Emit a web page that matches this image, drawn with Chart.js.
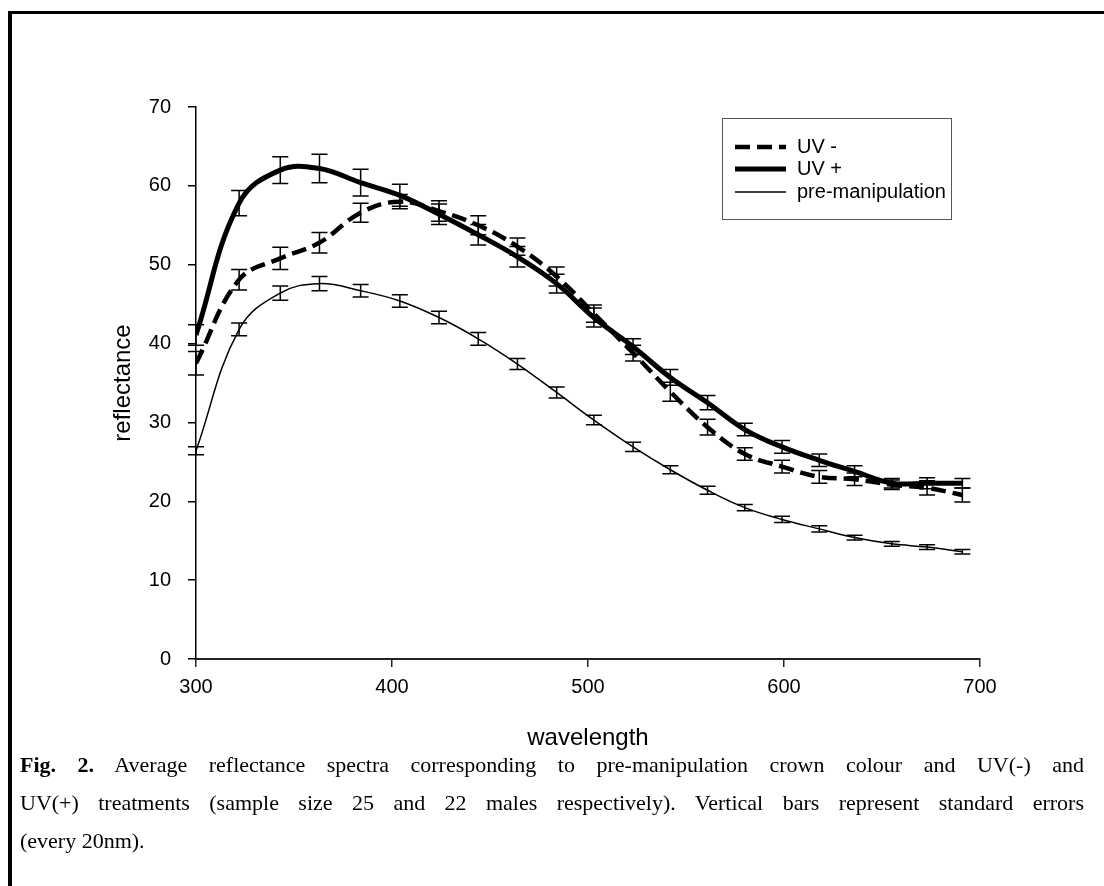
<!DOCTYPE html>
<html>
<head>
<meta charset="utf-8">
<script src="https://cdn.jsdelivr.net/npm/chart.js@4.4.1/dist/chart.umd.min.js"></script>
<style>
  html, body { margin: 0; padding: 0; background: #fff; }
  body { width: 1104px; height: 886px; position: relative; overflow: hidden; }
  #frame { position: absolute; left: 8px; top: 11px; width: 1200px; height: 1000px;
           border-left: 4px solid #000; border-top: 3px solid #000; }
  #chart { position: absolute; left: 0; top: 0; }
  #caption { position: absolute; left: 20px; top: 746px; width: 1064px;
             font-family: "Liberation Serif", "Times New Roman", serif; font-size: 22px;
             line-height: 38px; color: #000; }
  #caption div { text-align: justify; text-align-last: justify; white-space: nowrap; }
  #caption div.last { text-align-last: left; }
</style>
</head>
<body>
<div id="frame"></div>
<canvas id="chart" width="1104" height="760"></canvas>
<div id="caption">
  <div><b>Fig. 2.</b> Average reflectance spectra corresponding to pre-manipulation crown colour and UV(-) and</div>
  <div>UV(+) treatments (sample size 25 and 22 males respectively). Vertical bars represent standard errors</div>
  <div class="last">(every 20nm).</div>
</div>
<script>
// wavelengths where the standard errors were plotted (nm)
const wavelength = [300, 322, 343, 363, 384, 404, 424, 444, 464, 484, 503, 523, 542, 561, 580, 599, 618, 636, 655, 673, 691];

// mean reflectance per treatment
const uvMinus = [37.5, 48.1, 50.8, 52.8, 56.6, 58.0, 56.8, 55.0, 52.3, 48.5, 43.8, 38.8, 33.9, 29.4, 26.0, 24.4, 23.1, 22.8, 22.1, 21.7, 20.8];
const uvPlus  = [41.1, 57.8, 62.0, 62.2, 60.4, 58.8, 56.4, 53.8, 51.0, 47.6, 43.3, 39.6, 35.7, 32.5, 29.1, 26.9, 25.2, 23.8, 22.3, 22.3, 22.3];
const preManip = [26.4, 41.8, 46.4, 47.6, 46.7, 45.4, 43.3, 40.6, 37.4, 33.8, 30.3, 26.9, 24.0, 21.4, 19.2, 17.7, 16.5, 15.4, 14.6, 14.2, 13.6];

// standard errors
const uvMinusSE = [1.5, 1.3, 1.4, 1.3, 1.2, 0.9, 1.3, 1.2, 1.1, 1.2, 1.1, 1.0, 1.2, 1.0, 0.8, 0.8, 0.8, 0.8, 0.6, 0.9, 0.9];
const uvPlusSE  = [1.3, 1.6, 1.7, 1.8, 1.7, 1.4, 1.3, 1.3, 1.3, 1.2, 1.2, 1.0, 1.0, 0.9, 0.8, 0.8, 0.8, 0.7, 0.6, 0.7, 0.6];
const preSE     = [0.5, 0.8, 0.9, 0.9, 0.8, 0.8, 0.8, 0.8, 0.7, 0.7, 0.6, 0.6, 0.5, 0.5, 0.4, 0.4, 0.4, 0.3, 0.3, 0.3, 0.3];

const seriesLabels = ['UV -', 'UV +', 'pre-manipulation'];
const yTicks = [0, 10, 20, 30, 40, 50, 60, 70];
const xTicks = [300, 400, 500, 600, 700];

const toPoints = (vals) => vals.map((v, i) => ({ x: wavelength[i], y: v }));

// vertical standard error bars with caps
const errorBars = {
  id: 'errorBars',
  afterDatasetsDraw(chart) {
    const { ctx, scales: { x, y } } = chart;
    ctx.save();
    ctx.strokeStyle = '#000';
    ctx.lineWidth = 1.5;
    chart.data.datasets.forEach((ds) => {
      ds.data.forEach((p, i) => {
        const px = x.getPixelForValue(p.x);
        const top = y.getPixelForValue(p.y + ds.se[i]);
        const bot = y.getPixelForValue(p.y - ds.se[i]);
        ctx.beginPath();
        ctx.moveTo(px, top); ctx.lineTo(px, bot);
        ctx.moveTo(px - 8, top); ctx.lineTo(px + 8, top);
        ctx.moveTo(px - 8, bot); ctx.lineTo(px + 8, bot);
        ctx.stroke();
      });
    });
    ctx.restore();
  }
};

// boxed legend in the upper right, as in the figure
const boxLegend = {
  id: 'boxLegend',
  afterDraw(chart) {
    const ctx = chart.ctx;
    const left = 722, top = 118, right = 951, bottom = 219;
    ctx.save();
    ctx.strokeStyle = '#555';
    ctx.lineWidth = 1;
    ctx.strokeRect(left + 0.5, top + 0.5, right - left, bottom - top);
    ctx.font = '20px Arial, "Liberation Sans", sans-serif';
    ctx.textBaseline = 'middle';
    ctx.fillStyle = '#000';
    ctx.strokeStyle = '#000';
    const rows = [147, 169, 192];
    chart.data.datasets.forEach((ds, i) => {
      const yy = rows[i];
      ctx.beginPath();
      ctx.lineWidth = ds.borderWidth;
      ctx.setLineDash(ds.borderDash || []);
      ctx.moveTo(735, yy); ctx.lineTo(786, yy);
      ctx.stroke();
      ctx.setLineDash([]);
      ctx.fillText(ds.label, 797, yy);
    });
    ctx.restore();
  }
};

const tickFont = { family: 'Arial, "Liberation Sans", sans-serif', size: 20 };
const titleFont = { family: 'Arial, "Liberation Sans", sans-serif', size: 24 };

new Chart(document.getElementById('chart'), {
  type: 'line',
  data: {
    datasets: [
      { label: seriesLabels[0], data: toPoints(uvMinus), se: uvMinusSE, borderColor: '#000',
        borderWidth: 4.5, borderDash: [15, 7], pointRadius: 0, tension: 0.4, fill: false },
      { label: seriesLabels[1], data: toPoints(uvPlus), se: uvPlusSE, borderColor: '#000',
        borderWidth: 5, pointRadius: 0, tension: 0.4, fill: false },
      { label: seriesLabels[2], data: toPoints(preManip), se: preSE, borderColor: '#000',
        borderWidth: 1.5, pointRadius: 0, tension: 0.4, fill: false }
    ]
  },
  options: {
    responsive: false,
    animation: false,
    devicePixelRatio: 1,
    layout: { padding: { left: 0, top: 107, right: 124, bottom: 0 } },
    plugins: { legend: { display: false }, tooltip: { enabled: false } },
    scales: {
      x: {
        type: 'linear', min: 300, max: 700,
        afterBuildTicks: (s) => { s.ticks = xTicks.map(v => ({ value: v })); },
        afterFit: (s) => { s.height = 101; },
        border: { display: true, color: '#222', width: 2 },
        grid: { display: true, drawOnChartArea: false, drawTicks: true, tickLength: 8, color: '#222', lineWidth: 1.5 },
        ticks: { color: '#000', font: tickFont, padding: 8 },
        title: { display: true, text: 'wavelength', color: '#000', font: titleFont, padding: { top: 0, bottom: 7 } }
      },
      y: {
        min: 0, max: 70,
        afterBuildTicks: (s) => { s.ticks = yTicks.map(v => ({ value: v })); },
        afterFit: (s) => { s.width = 196; },
        border: { display: true, color: '#000', width: 1.5 },
        grid: { display: true, drawOnChartArea: false, drawTicks: true, tickLength: 8, color: '#000', lineWidth: 1.5 },
        ticks: { color: '#000', font: tickFont, padding: 17 },
        title: { display: true, text: 'reflectance', color: '#000', font: titleFont, padding: { top: 109, bottom: 0 } }
      }
    }
  },
  plugins: [errorBars, boxLegend]
});
</script>
</body>
</html>
